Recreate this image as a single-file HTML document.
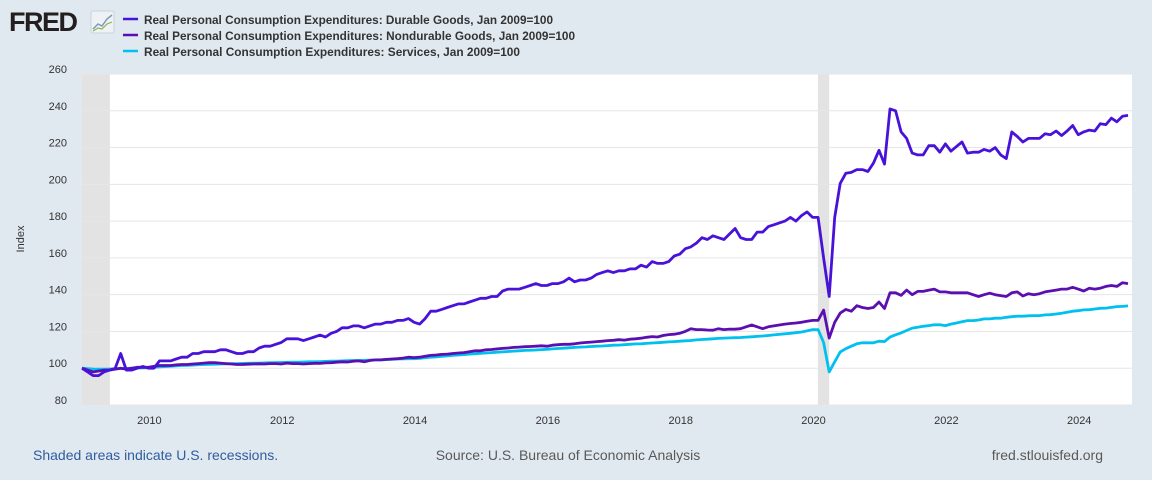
<!DOCTYPE html>
<html><head><meta charset="utf-8">
<style>
html,body{margin:0;padding:0;width:1152px;height:480px;background:#e1e9f0;overflow:hidden;font-family:"Liberation Sans",Arial,sans-serif;}
svg{display:block}
</style></head>
<body>
<svg id="chart" width="1152" height="480">
  <rect x="0" y="0" width="1152" height="480" fill="#e1e9f0"/>
  <g>
    <text x="9" y="31" font-size="27" font-weight="bold" fill="#231f20" font-family="Liberation Sans, sans-serif" letter-spacing="-1.5">FRED</text>
    <rect x="91" y="11" width="23" height="22" rx="2" fill="#eef2f5" stroke="#c9d2da"/>
    <polyline points="93,29 98,24 102,26 107,19 112,15" fill="none" stroke="#7a9ab8" stroke-width="1.5"/>
    <polyline points="93,31 98,28 102,29 107,24 112,22" fill="none" stroke="#8fb05a" stroke-width="1.2"/>
  </g>
  <g id="legend"></g>
  <rect x="82" y="74" width="1050" height="331" fill="#ffffff"/>
  <g id="recessions"></g>
  <g id="grid"></g>
  <g id="yticks"></g>
  <g id="xticks"></g>
  <g id="series"></g>
  <text x="24" y="239" font-size="11" fill="#333" text-anchor="middle" transform="rotate(-90 24 239)">Index</text>
  <text x="33" y="460" font-size="14" fill="#2f5ca0">Shaded areas indicate U.S. recessions.</text>
  <text x="568" y="460" font-size="14" fill="#595959" text-anchor="middle">Source: U.S. Bureau of Economic Analysis</text>
  <text x="1103" y="460" font-size="14" fill="#595959" text-anchor="end">fred.stlouisfed.org</text>
</svg>
<script>
const yTicks = [80,100,120,140,160,180,200,220,240,260];
const xTickYears = [2010,2012,2014,2016,2018,2020,2022,2024];
const recessionStarts = [2009.0, 2020.08];
const recessionEnds = [2009.42, 2020.25];
const startYear = 2009;
const durable = [
100,98,96,96,98,99,100,108,99,99,100,101,
100,100,104,104,104,105,106,106,108,108,109,109,
109,110,110,109,108,108,109,109,111,112,112,113,
114,116,116,116,115,116,117,118,117,119,120,122,
122,123,123,122,123,124,124,125,125,126,126,127,
125,124,127,131,131,132,133,134,135,135,136,137,
138,138,139,139,142,143,143,143,144,145,146,145,
145,146,146,147,149,147,148,148,149,151,152,153,
152,153,153,154,154,156,155,158,157,157,158,161,
162,165,166,168,171,170,172,171,170,173,176,171,
170,170,174,174,177,178,179,180,182,180,183,185,
182,182,160,139,182,200.5,206,206.5,208,208,207,211.5,
218.5,211,241,240,228.5,225,217,216,216,221,221,217.5,
222,218,220.5,223,217,217.5,217.5,219,218,220,216,214,
228.5,226,223,225,225,225,227.5,227,229,226.5,229,232,
227,228.5,229.5,229,233,232.5,236,234,237,237.5
];
const nondurable = [
100,99,98,98.5,99,99,99.5,100,99.5,100,100.5,100.5,
100.5,101,101.5,101.5,101.5,101.8,102,102,102.3,102.5,102.8,103,
103,102.8,102.5,102.3,102,102,102.2,102.3,102.4,102.3,102.5,102.5,
102.3,102.8,102.5,102.5,102.3,102.5,102.7,102.6,102.9,103,103.3,103.5,
103.4,103.8,104,103.5,104.2,104.5,104.5,104.8,105,105.2,105.5,106,
105.8,106,106.5,107,107.2,107.5,107.7,108,108.3,108.5,109,109.5,
109.5,110,110.2,110.5,110.8,111,111.3,111.5,111.7,111.8,112,112.2,
112,112.5,112.8,113,113,113.3,113.7,114,114.2,114.5,114.7,115,
115.2,115.5,115.3,115.8,116,116.3,116.8,117.2,117,117.8,118.3,118.5,
119,120,121.5,121,121,120.8,120.7,121.5,121,121.3,121.2,121.5,
122.5,123.5,122.5,121.5,122.5,123,123.5,124,124.3,124.6,125,125.5,
126,126,131.6,116.4,125,130,132,131,134,133,132.5,133,
136,132.5,141,141,139.6,142.5,140,141.8,141.8,142.5,143,141.5,
141.5,141,141,141,141,140,139,140,140.8,140,139.5,139,
141,141.5,139.3,140.5,140,140.5,141.5,142,142.5,143,143,144,
143,142,143.5,143,143.5,144.5,145,144.5,146.5,146
];
const services = [
100,99.8,99.6,99.5,99.5,99.6,99.7,99.8,99.9,100,100.1,100.2,
100.3,100.5,100.7,100.9,101.1,101.3,101.5,101.6,101.7,101.9,102,102.1,
102.2,102.3,102.4,102.5,102.5,102.6,102.7,102.8,102.8,102.9,103,103,
103.1,103.2,103.3,103.3,103.4,103.5,103.5,103.6,103.7,103.8,103.9,104,
104.1,104.2,104.2,104.3,104.4,104.5,104.6,104.7,104.8,105,105.1,105.2,
105.2,105.4,105.7,106,106.2,106.5,106.7,107,107.2,107.4,107.7,107.9,
108.1,108.3,108.5,108.7,108.9,109.1,109.3,109.5,109.7,109.8,109.9,110.1,
110.3,110.5,110.7,110.9,111.1,111.3,111.5,111.6,111.8,112,112.1,112.3,
112.5,112.6,112.8,113,113.2,113.3,113.5,113.7,113.9,114.1,114.3,114.5,
114.7,114.9,115.1,115.4,115.6,115.8,116,116.2,116.4,116.5,116.6,116.7,
116.9,117.1,117.3,117.5,117.8,118.1,118.4,118.7,119,119.3,119.7,120.3,
121,121,114,98,103.5,108.8,110.6,112,113.3,113.8,113.8,113.8,
114.7,114.5,116.9,118.2,119.2,120.5,121.8,122.3,122.8,123.2,123.6,123.6,
123.2,124,124.6,125.3,125.9,125.9,126.2,126.8,126.8,127.2,127.2,127.7,
128,128.3,128.3,128.5,128.6,128.6,129,129.1,129.5,129.9,130.4,131,
131.3,131.7,131.8,132.2,132.6,132.7,133.1,133.5,133.6,133.9
];
const seriesNames = ["Real Personal Consumption Expenditures: Durable Goods, Jan 2009=100","Real Personal Consumption Expenditures: Nondurable Goods, Jan 2009=100","Real Personal Consumption Expenditures: Services, Jan 2009=100"];
const seriesColors = ["#4812d8","#5c0fb0","#00c0ef"];
const legendWidths = [409,431,376];

const NS="http://www.w3.org/2000/svg";
const X0=82, X1=1132, Y0=405, Y1=74;
const yMin=80, yMax=260, tMin=2009.0, tMax=2024.81;
function xs(t){return X0+(t-tMin)/(tMax-tMin)*(X1-X0);}
function ys(v){return Y0-(v-yMin)/(yMax-yMin)*(Y0-Y1);}
function mk(tag,attrs,parent){const e=document.createElementNS(NS,tag);for(const k in attrs)e.setAttribute(k,attrs[k]);parent.appendChild(e);return e;}

const rg=document.getElementById('recessions');
recessionStarts.forEach((s,i)=>{
  const r=mk('rect',{x:xs(s),y:Y1,width:xs(recessionEnds[i])-xs(s),height:Y0-Y1,fill:'#e3e3e3'},rg);
  
  
});
const gg=document.getElementById('grid'), yt=document.getElementById('yticks');
yTicks.forEach(v=>{
  const l=mk('line',{x1:X0,x2:X1,y1:ys(v),y2:ys(v),stroke:'#e6e6e6','stroke-width':1},gg);
  
  
  const t=mk('text',{x:67,y:ys(v)-1,'font-size':11,fill:'#333','text-anchor':'end'},yt);
  t.textContent=v;
  
  
});
const xt=document.getElementById('xticks');
xTickYears.forEach(yr=>{
  const t=mk('text',{x:xs(yr)+1,y:424,'font-size':11,fill:'#333','text-anchor':'middle'},xt);
  t.textContent=yr;
  
  
});
const sg=document.getElementById('series');
[durable,nondurable,services].slice().reverse().forEach((arr,ri)=>{
  const i=2-ri;
  const pts=arr.map((v,k)=>xs(startYear+k/12).toFixed(1)+','+ys(v).toFixed(1)).join(' ');
  const p=mk('polyline',{points:pts,fill:'none',stroke:seriesColors[i],'stroke-width':2.8,'stroke-linejoin':'round'},sg);
  
  
});
const lg=document.getElementById('legend');
seriesNames.forEach((n,i)=>{
  const y=24+i*16;
  const l=mk('line',{x1:123,x2:138,y1:y-5,y2:y-5,stroke:seriesColors[i],'stroke-width':2.5},lg);
  
  
  const t=mk('text',{x:144,y:y,'font-size':12,fill:'#333','font-weight':'bold',textLength:legendWidths[i],lengthAdjust:'spacingAndGlyphs'},lg);
  t.textContent=n;
  
  
});
</script>
</body></html>
